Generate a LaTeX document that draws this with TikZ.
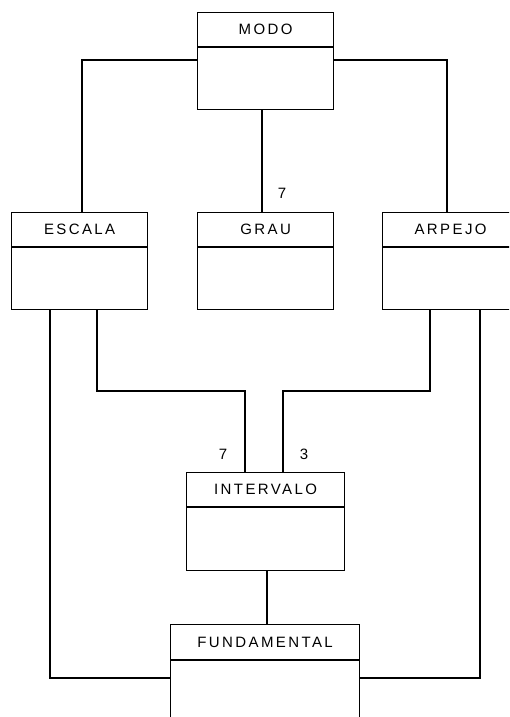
\documentclass[tikz,border=0pt]{standalone}
\usepackage{fontspec}
\setmainfont{Liberation Sans}[LetterSpace=16]
\begin{document}
\begin{tikzpicture}[x=1pt,y=-1pt,
  line width=1.2pt,
  hdr/.style={draw, rectangle, inner sep=0pt, minimum width=136pt, minimum height=34pt, anchor=north west, font=\fontsize{15}{17}\selectfont},
  bodybox/.style={draw, rectangle, inner sep=0pt, minimum width=136pt, anchor=north},
  lbl/.style={font=\fontsize{15}{17}\selectfont, inner sep=0pt},
  conn/.style={line width=1.2pt}]
\useasboundingbox (0,0) rectangle (509,717);
\clip (0,0) rectangle (509,717);
% classes
\node[hdr] (modo) at (197,12) {MODO};
\node[bodybox, minimum height=62pt] (modob) at (modo.south) {};
\node[hdr] (escala) at (11,212) {ESCALA};
\node[bodybox, minimum height=62pt] (escalab) at (escala.south) {};
\node[hdr] (grau) at (197,212) {GRAU};
\node[bodybox, minimum height=62pt] (graub) at (grau.south) {};
\node[hdr] (arpejo) at (382,212) {ARPEJO};
\node[bodybox, minimum height=62pt] (arpejob) at (arpejo.south) {};
\node[hdr, minimum width=158pt] (intervalo) at (186,472) {INTERVALO};
\node[bodybox, minimum width=158pt, minimum height=63pt] (intervalob) at (intervalo.south) {};
\node[hdr, minimum width=189pt, minimum height=35pt] (fund) at (170,624) {FUNDAMENTAL};
\node[bodybox, minimum width=189pt, minimum height=80pt] (fundb) at (fund.south) {};
% connectors
\draw[conn] (modob.west |- 0,60) -| (escala.north -| 82,0);
\draw[conn] (modob.east |- 0,60) -| (arpejo.north -| 447,0);
\draw[conn] (modob.south -| 262,0) -- (grau.north -| 262,0);
\draw[conn] (escalab.south -| 97,0) |- (245,391) -- (intervalo.north -| 245,0);
\draw[conn] (arpejob.south -| 430,0) |- (283,391) -- (intervalo.north -| 283,0);
\draw[conn] (intervalob.south -| 267,0) -- (fund.north -| 267,0);
\draw[conn] (escalab.south -| 50,0) |- (fundb.west |- 0,678);
\draw[conn] (arpejob.south -| 480,0) |- (fundb.east |- 0,678);
% multiplicities
\node[lbl] (m1) at (282,193) {7};
\node[lbl] (m2) at (223,454) {7};
\node[lbl] (m3) at (304,454) {3};
\end{tikzpicture}
\end{document}
